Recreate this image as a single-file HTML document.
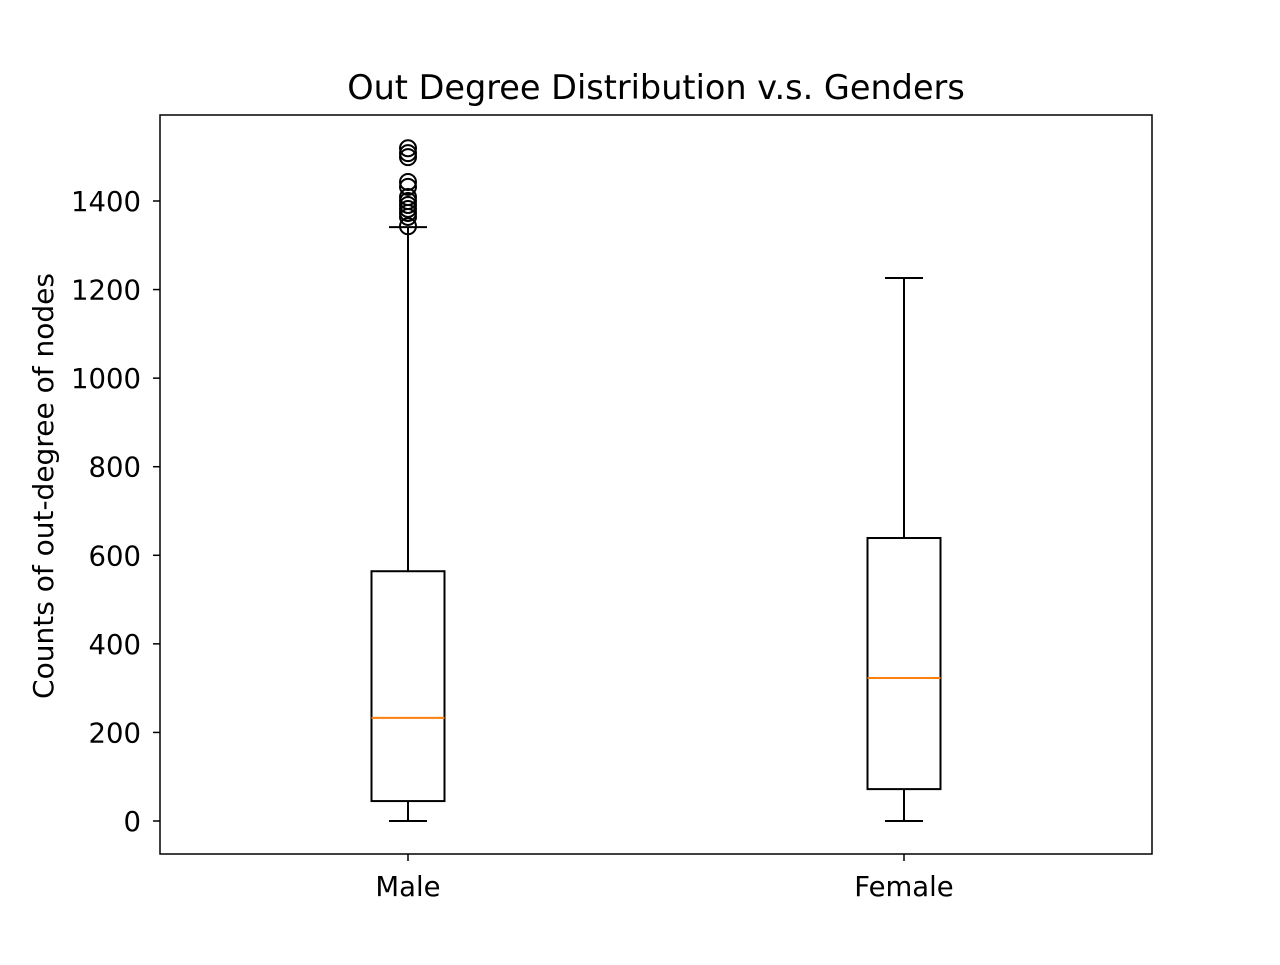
<!DOCTYPE html>
<html><head><meta charset="utf-8"><style>
body{margin:0;background:#fff;}
svg text{font-family:"DejaVu Sans","Liberation Sans",sans-serif;fill:#000;}
</style></head><body>
<svg width="1280" height="960">
<rect width="1280" height="960" fill="#fff"/>
<text x="656" y="99" font-size="33.5" text-anchor="middle">Out Degree Distribution v.s. Genders</text>
<text transform="translate(53,486) rotate(-90)" font-size="28" text-anchor="middle">Counts of out-degree of nodes</text>
<g id="plot"></g>
<rect x="160" y="115" width="992" height="739" fill="none" stroke="#000" stroke-width="1.5"/>
</svg>
<script>
const categories=["Male","Female"];
const q1=[45,72];
const medians=[233,323];
const q3=[564,639];
const whiskLo=[0,0];
const whiskHi=[1341,1226];
const outliersMale=[1519,1508,1499,1443,1432,1409,1400,1391,1382,1373,1364,1343];
const outliers=[outliersMale,[]];
const yTicks=[0,200,400,600,800,1000,1200,1400];

const NS="http://www.w3.org/2000/svg";
const g=document.getElementById('plot');
const y0=821, k=620/1400;
function ys(v){return y0-v*k;}
function xs(i){return 408+i*496;}
function mk(t,a,p){const e=document.createElementNS(NS,t);for(const n in a)e.setAttribute(n,a[n]);(p||g).appendChild(e);return e;}
yTicks.forEach(v=>{
  const y=ys(v);
  const l=mk('line',{x1:153,x2:160,y1:y,y2:y,stroke:'#000','stroke-width':1.5});
  
  
  const t=mk('text',{x:141,y:y+10,'font-size':27.5,'text-anchor':'end'});
  t.textContent=v;
  
  
});
categories.forEach((c,i)=>{
  const x=xs(i), hw=36.5, cw=19;
  const l=mk('line',{x1:x,x2:x,y1:854,y2:861,stroke:'#000','stroke-width':1.5});
  
  
  const t=mk('text',{x:x,y:896,'font-size':27.5,'text-anchor':'middle'});
  t.textContent=c;
  
  
  const grp=mk('g',{});
  
  
  const S={stroke:'#000','stroke-width':2,fill:'none'};
  mk('line',Object.assign({x1:x,x2:x,y1:ys(q1[i]),y2:ys(whiskLo[i])},S),grp);
  mk('line',Object.assign({x1:x,x2:x,y1:ys(q3[i]),y2:ys(whiskHi[i])},S),grp);
  mk('line',Object.assign({x1:x-cw,x2:x+cw,y1:ys(whiskLo[i]),y2:ys(whiskLo[i])},S),grp);
  mk('line',Object.assign({x1:x-cw,x2:x+cw,y1:ys(whiskHi[i]),y2:ys(whiskHi[i])},S),grp);
  mk('rect',Object.assign({x:x-hw,y:ys(q3[i]),width:2*hw,height:ys(q1[i])-ys(q3[i])},S),grp);
  mk('line',{x1:x-hw,x2:x+hw,y1:ys(medians[i]),y2:ys(medians[i]),stroke:'#ff7f0e','stroke-width':2},grp);
  outliers[i].forEach(v=>{
    const o=mk('circle',{cx:x,cy:ys(v),r:8,stroke:'#000','stroke-width':2,fill:'none'},grp);
    
    
  });
});
</script>
</body></html>
